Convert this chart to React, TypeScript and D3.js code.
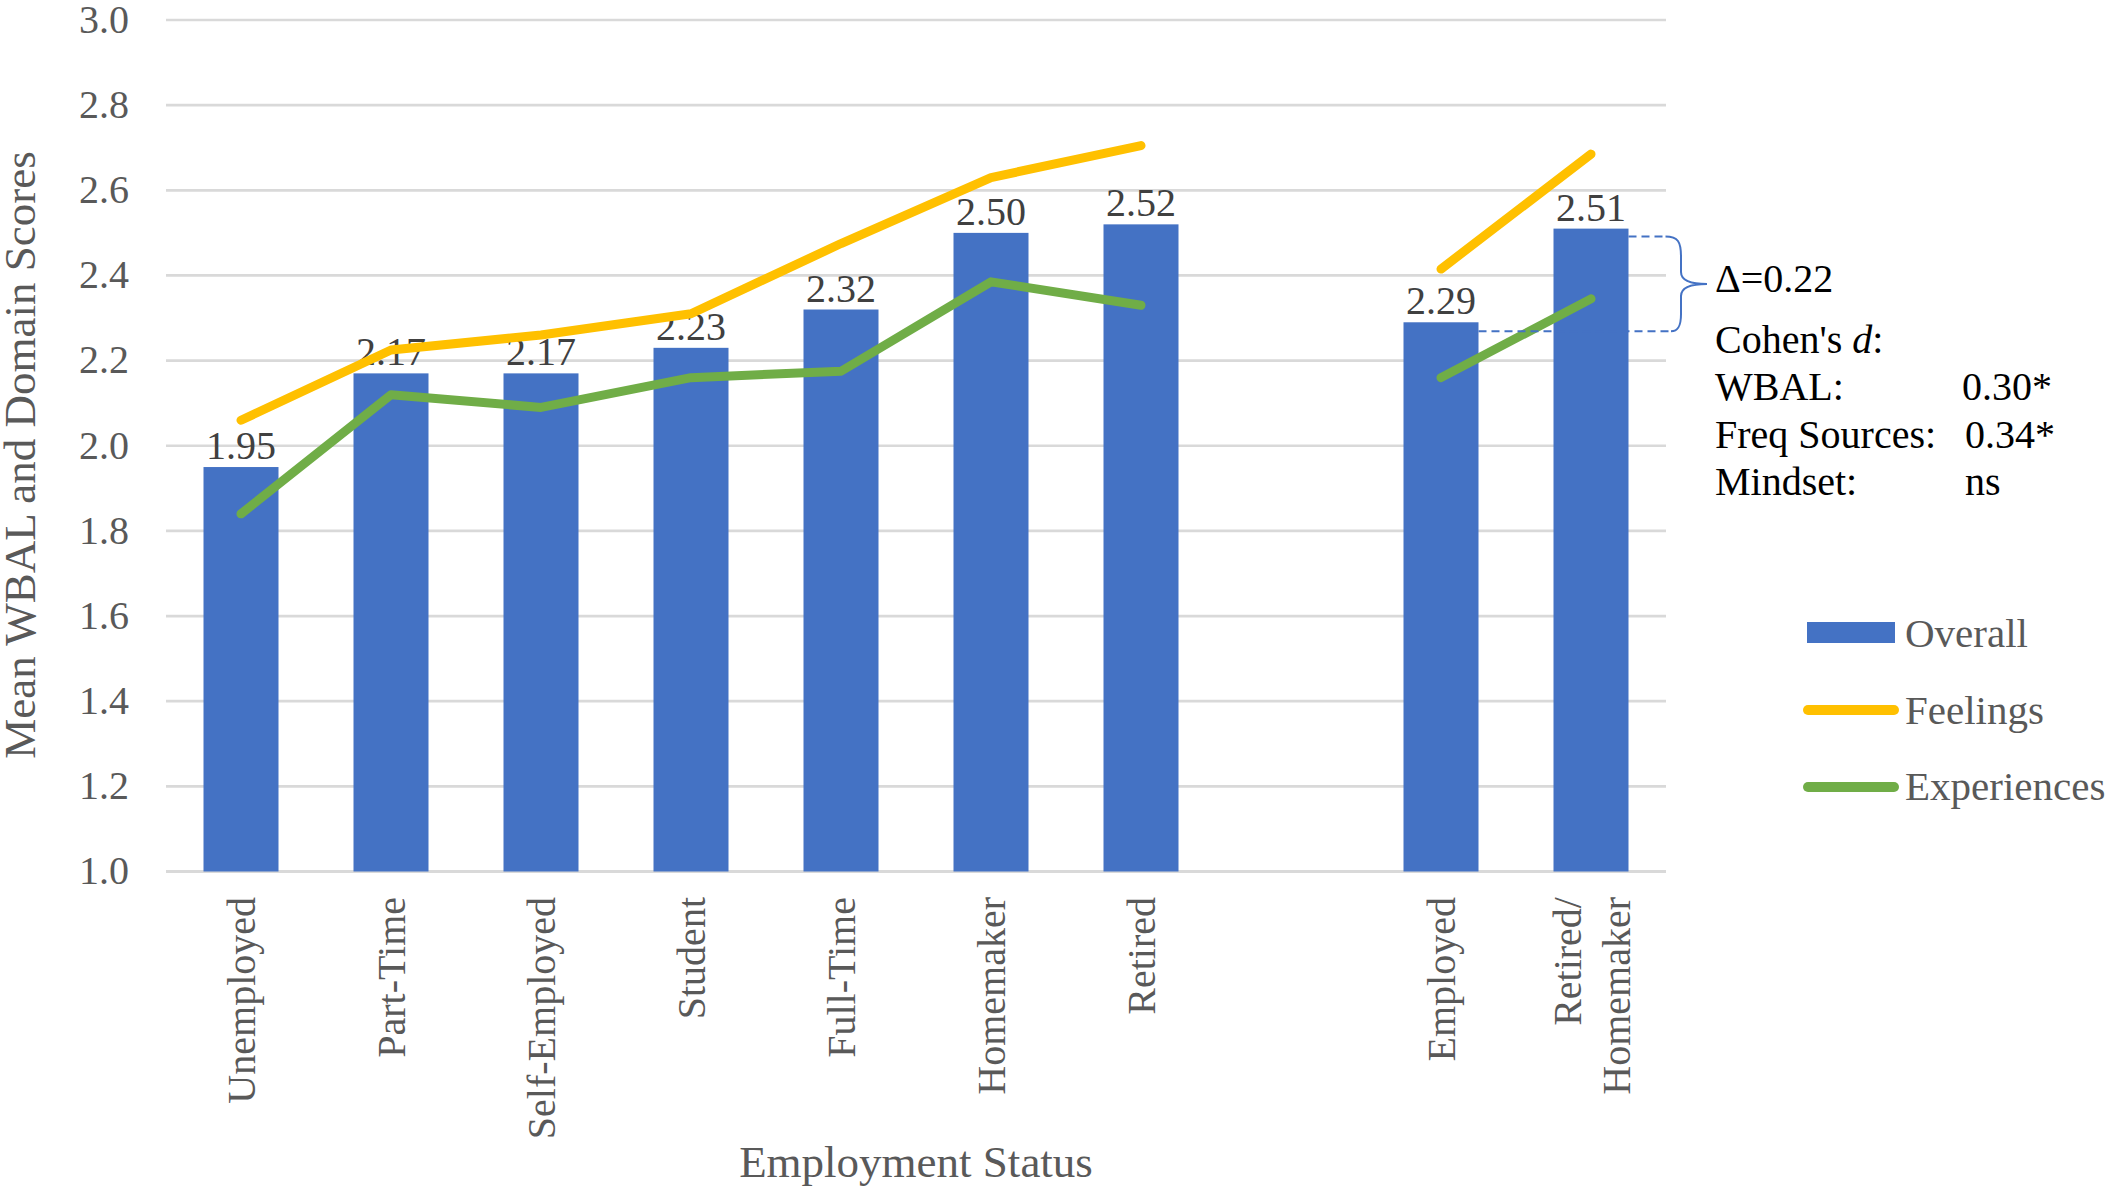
import React from "react";
import * as d3 from "d3";

const categories = [
  "Unemployed",
  "Part-Time",
  "Self-Employed",
  "Student",
  "Full-Time",
  "Homemaker",
  "Retired",
  "",
  "Employed",
  "Retired/\nHomemaker",
];
const overall: (number | null)[] = [1.95, 2.17, 2.17, 2.23, 2.32, 2.5, 2.52, null, 2.29, 2.51];
const feelings: (number | null)[] = [2.06, 2.225, 2.26, 2.31, 2.475, 2.63, 2.705, null, 2.415, 2.685];
const experiences: (number | null)[] = [1.84, 2.12, 2.09, 2.16, 2.175, 2.385, 2.33, null, 2.16, 2.345];
const yTicks = [1.0, 1.2, 1.4, 1.6, 1.8, 2.0, 2.2, 2.4, 2.6, 2.8, 3.0];
const legendItems = ["Overall", "Feelings", "Experiences"];
const deltaLabel = "Δ=0.22";
const cohenRows = [
  ["WBAL:", "0.30*"],
  ["Freq Sources:", "0.34*"],
  ["Mindset:", "ns"],
];

const W = 2112;
const H = 1189;
const FONT = "'Liberation Serif', 'Times New Roman', serif";
const BLUE = "#4472C4";
const GOLD = "#FFC000";
const GREEN = "#70AD47";
const GRID = "#D9D9D9";
const AXIS_TEXT = "#595959";

export default function App() {
  const keys = categories.map((c, i) => `${i}`);
  const x = d3
    .scaleBand<string>()
    .domain(keys)
    .range([166, 1666])
    .paddingInner(0.5)
    .paddingOuter(0.25);
  const y = d3.scaleLinear().domain([1, 3]).range([871.5, 20]);
  const cx = (i: number) => (x(keys[i]) as number) + x.bandwidth() / 2;

  const line = d3
    .line<number | null>()
    .defined((d) => d !== null)
    .x((_, i) => cx(i))
    .y((d) => y(d as number));

  const empIdx = 8;
  const rhIdx = 9;
  const topY = y(overall[rhIdx] as number) + 8;
  const botY = y(overall[empIdx] as number) + 9;
  const rhRight = (x(keys[rhIdx]) as number) + x.bandwidth();
  const empRight = (x(keys[empIdx]) as number) + x.bandwidth();
  const midY = (topY + botY) / 2;
  const bx = 1681;
  const brace = `M${rhRight + 37},${topY} C${bx - 3},${topY} ${bx},${topY + 5} ${bx},${topY + 20} L${bx},${midY - 12} C${bx},${midY - 4} ${bx + 9},${midY} ${bx + 26},${midY} C${bx + 9},${midY} ${bx},${midY + 4} ${bx},${midY + 12} L${bx},${botY - 17} C${bx},${botY - 5} ${bx - 3},${botY} ${bx - 10},${botY}`;

  return (
    <svg
      width={W}
      height={H}
      style={{ position: "absolute", left: 0, top: 0, background: "#fff" }}
      fontFamily={FONT}
    >
      <rect x={0} y={0} width={W} height={H} fill="#fff" />
      {/* gridlines */}
      {yTicks.map((t) => (
        <line
          key={t}
          x1={166}
          x2={1666}
          y1={y(t)}
          y2={y(t)}
          stroke={GRID}
          strokeWidth={t === 1 ? 3 : 2.7}
        />
      ))}
      {/* y tick labels */}
      {yTicks.map((t) => (
        <text
          key={"l" + t}
          x={129}
          y={y(t)}
          dy="0.32em"
          textAnchor="end"
          fontSize={40}
          fill={AXIS_TEXT}
        >
          {d3.format(".1f")(t)}
        </text>
      ))}
      {/* bars */}
      {overall.map((v, i) =>
        v === null ? null : (
          <rect
            key={"b" + i}
            x={x(keys[i])}
            y={y(v)}
            width={x.bandwidth()}
            height={y(1) - y(v)}
            fill={BLUE}
          />
        )
      )}
      {/* data labels */}
      {overall.map((v, i) =>
        v === null ? null : (
          <text
            key={"d" + i}
            x={cx(i)}
            y={y(v) - 8}
            textAnchor="middle"
            fontSize={40}
            fill="#404040"
          >
            {d3.format(".2f")(v)}
          </text>
        )
      )}
      {/* lines */}
      <path
        d={line(feelings) || ""}
        fill="none"
        stroke={GOLD}
        strokeWidth={9}
        strokeLinecap="round"
        strokeLinejoin="round"
      />
      <path
        d={line(experiences) || ""}
        fill="none"
        stroke={GREEN}
        strokeWidth={9}
        strokeLinecap="round"
        strokeLinejoin="round"
      />
      {/* x category labels */}
      {categories.map((c, i) => {
        if (!c) return null;
        const parts = c.split("\n");
        const lh = 49;
        return (
          <text
            key={"c" + i}
            transform={`translate(${cx(i)},897) rotate(-90)`}
            textAnchor="end"
            fontSize={40}
            fill={AXIS_TEXT}
          >
            {parts.map((p, j) => (
              <tspan key={j} x={0} y={(j - (parts.length - 1) / 2) * lh} dy="0.35em">
                {p}
              </tspan>
            ))}
          </text>
        );
      })}
      {/* axis titles */}
      <text
        x={916}
        y={1177}
        textAnchor="middle"
        fontSize={45}
        fill={AXIS_TEXT}
      >
        Employment Status
      </text>
      <text
        transform="translate(35,455) rotate(-90)"
        textAnchor="middle"
        fontSize={45}
        fill={AXIS_TEXT}
      >
        Mean WBAL and Domain Scores
      </text>
      {/* annotation */}
      <line
        x1={rhRight}
        x2={rhRight + 37}
        y1={topY}
        y2={topY}
        stroke={BLUE}
        strokeWidth={2}
        strokeDasharray="8,5"
      />
      <line
        x1={empRight}
        x2={bx - 10}
        y1={botY}
        y2={botY}
        stroke={BLUE}
        strokeWidth={2}
        strokeDasharray="8,5"
      />
      <path d={brace} fill="none" stroke={BLUE} strokeWidth={2} />
      <text x={1715} y={291.7} fontSize={40} fill="#000">
        {deltaLabel}
      </text>
      <text x={1715} y={352.7} fontSize={40} fill="#000">
        Cohen's <tspan fontStyle="italic">d</tspan>:
      </text>
      {cohenRows.map((r, i) => (
        <g key={"r" + i}>
          <text x={1715} y={400 + i * 47.5} fontSize={40} fill="#000">
            {r[0]}
          </text>
          <text x={1962 + (i > 0 ? 3 : 0)} y={400 + i * 47.5} fontSize={40} fill="#000">
            {r[1]}
          </text>
        </g>
      ))}
      {/* legend */}
      <rect x={1807} y={622} width={88} height={21} fill={BLUE} />
      <line x1={1808} x2={1894} y1={710} y2={710} stroke={GOLD} strokeWidth={10} strokeLinecap="round" />
      <line x1={1808} x2={1894} y1={787} y2={787} stroke={GREEN} strokeWidth={10} strokeLinecap="round" />
      {legendItems.map((l, i) => (
        <text key={l} x={1905} y={647 + i * 76.6} fontSize={41} fill={AXIS_TEXT}>
          {l}
        </text>
      ))}
    </svg>
  );
}
